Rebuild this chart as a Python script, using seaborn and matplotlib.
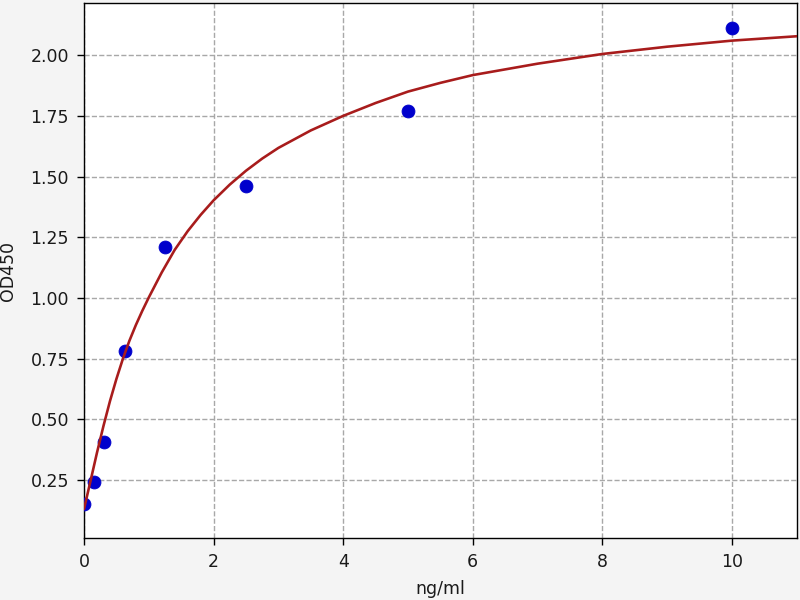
import matplotlib
matplotlib.use("Agg")
import matplotlib.pyplot as plt
import seaborn as sns
import pandas as pd

# Standard points
conc = [0.0, 0.156, 0.312, 0.625, 1.25, 2.5, 5.0, 10.0]
od450 = [0.152, 0.242, 0.405, 0.780, 1.210, 1.462, 1.770, 2.112]

# Fitted curve, values
curve_x = [0.0, 0.1, 0.2, 0.3, 0.4, 0.5, 0.6, 0.7, 0.8, 0.9, 1.0, 1.2, 1.4,
           1.6, 1.8, 2.0, 2.25, 2.5, 2.75, 3.0, 3.5, 4.0, 4.5, 5.0, 5.5, 6.0,
           7.0, 8.0, 9.0, 10.0, 11.0]
curve_y = [0.130, 0.245, 0.362, 0.472, 0.574, 0.666, 0.749, 0.823, 0.888,
           0.947, 1.002, 1.105, 1.198, 1.275, 1.342, 1.402, 1.467, 1.524,
           1.574, 1.618, 1.690, 1.750, 1.803, 1.850, 1.886, 1.918, 1.965,
           2.005, 2.035, 2.060, 2.078]

x_ticks = [0, 2, 4, 6, 8, 10]
y_ticks = [0.25, 0.50, 0.75, 1.00, 1.25, 1.50, 1.75, 2.00]

sns.set_style("ticks")
plt.rcParams['font.family'] = ['DejaVu Sans']

fig = plt.figure(figsize=(6.4, 4.8), dpi=125, facecolor="#f4f4f4")
ax = fig.add_axes([0.105, 0.103, 0.891, 0.892])
ax.set_facecolor("white")

pts = pd.DataFrame({"x": conc, "y": od450})
crv = pd.DataFrame({"x": curve_x, "y": curve_y})

sns.scatterplot(data=pts, x="x", y="y", ax=ax, color="#0000cc", s=55,
                edgecolor="#0000cc", linewidth=0.5, zorder=3)
sns.lineplot(data=crv, x="x", y="y", ax=ax, color="#a81c1c", linewidth=1.5,
             zorder=4, sort=True)

ax.set_xlim(0, 11)
ax.set_ylim(0.01, 2.215)
ax.set_xticks(x_ticks)
ax.set_xticklabels([str(v) for v in x_ticks])
ax.set_yticks(y_ticks)
ax.set_yticklabels([f"{v:.2f}" for v in y_ticks])
ax.grid(True, linestyle="--", color="#a8a8a8", linewidth=0.8)
ax.set_axisbelow(True)
for s in ax.spines.values():
    s.set_visible(True)
    s.set_color("black")
    s.set_linewidth(0.8)
ax.tick_params(axis="both", labelsize=10, length=4.2, width=0.8, color="black",
               direction="out", pad=4.5, labelcolor="#1a1a1a")
ax.set_xlabel("ng/ml", fontsize=10, labelpad=5, color="#1a1a1a")
ax.set_ylabel("OD450", fontsize=10, labelpad=8, color="#1a1a1a")

fig.savefig("out.png", dpi=125, facecolor=fig.get_facecolor())
